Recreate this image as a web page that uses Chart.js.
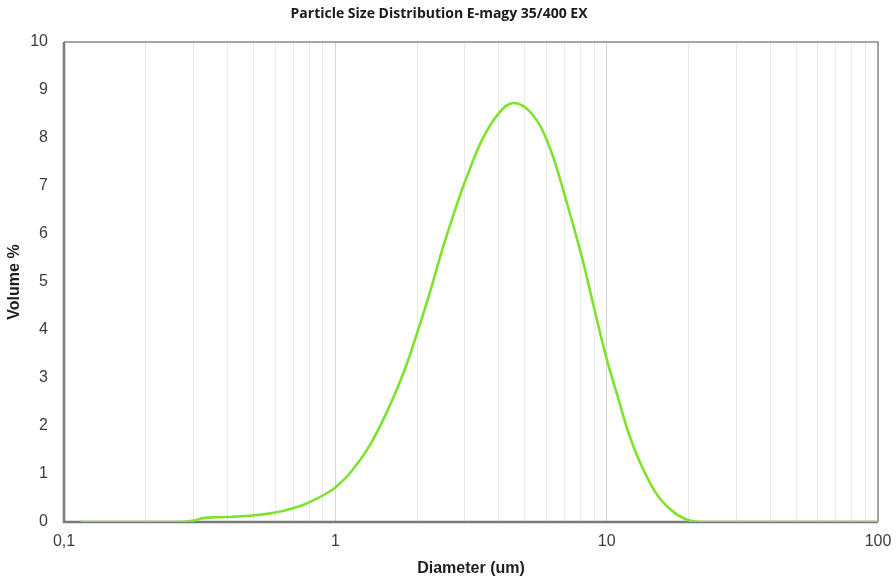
<!DOCTYPE html>
<html>
<head>
<meta charset="utf-8">
<script src="https://cdn.jsdelivr.net/npm/chart.js@4.4.1/dist/chart.umd.min.js"></script>
<style>
  html, body { margin: 0; padding: 0; background: #fff; }
  #wrap { width: 896px; height: 580px; position: relative; }
</style>
</head>
<body>
<div id="wrap"><canvas id="c"></canvas></div>
<script>
const chartTitle = 'Particle Size Distribution E-magy 35/400 EX';
const xAxisTitle = 'Diameter (um)';
const yAxisTitle = 'Volume %';

// Diameter (um) and volume %
const diameters = [0.115, 0.2, 0.27, 0.3, 0.325, 0.364, 0.42, 0.483, 0.56, 0.64, 0.72, 0.78, 0.85, 0.95, 1.0, 1.125, 1.334, 1.58, 1.82, 2.0, 2.22, 2.48, 2.78, 3.02, 3.48, 4.01, 4.55, 5.31, 6.12, 7.05, 8.12, 8.95, 10.0, 11.07, 12.05, 13.5, 15.5, 17.9, 20.0, 21.8, 30, 50, 100];
const volumes   = [0, 0, 0, 0.03, 0.08, 0.10, 0.11, 0.13, 0.17, 0.23, 0.31, 0.38, 0.48, 0.63, 0.72, 1.00, 1.58, 2.40, 3.24, 3.93, 4.74, 5.68, 6.55, 7.12, 7.97, 8.52, 8.73, 8.50, 7.85, 6.75, 5.50, 4.50, 3.40, 2.55, 1.85, 1.15, 0.53, 0.18, 0.04, 0, 0, 0, 0];

const xMajorTicks = [0.1, 1, 10, 100];
const xTickLabels = ['0,1', '1', '10', '100'];
const yTicks = [0, 1, 2, 3, 4, 5, 6, 7, 8, 9, 10];

const points = diameters.map((d, i) => ({ x: d, y: volumes[i] }));

const framePlugin = {
  id: 'frame',
  beforeDatasetsDraw(chart) {
    const { ctx, chartArea: a } = chart;
    ctx.save();
    ctx.strokeStyle = '#8a8a8a';
    ctx.lineWidth = 1.5;
    ctx.beginPath();
    ctx.moveTo(a.left, a.top);
    ctx.lineTo(a.right, a.top);
    ctx.lineTo(a.right, a.bottom);
    ctx.stroke();
    ctx.strokeStyle = '#7a7a7a';
    ctx.lineWidth = 2.5;
    ctx.beginPath();
    ctx.moveTo(a.left, a.top);
    ctx.lineTo(a.left, a.bottom);
    ctx.lineTo(a.right, a.bottom);
    ctx.stroke();
    ctx.restore();
  }
};

new Chart(document.getElementById('c'), {
  type: 'scatter',
  data: {
    datasets: [{
      data: points,
      showLine: true,
      borderColor: '#7fe22c',
      borderWidth: 2.6,
      pointRadius: 0,
      tension: 0.4,
      fill: false
    }]
  },
  options: {
    responsive: true,
    maintainAspectRatio: false,
    animation: false,
    layout: { padding: { left: 0, right: 18, top: 0, bottom: 0 } },
    plugins: {
      legend: { display: false },
      tooltip: { enabled: false },
      title: {
        display: true,
        text: chartTitle,
        color: '#1a1a1a',
        font: { family: 'Open Sans', size: 14, weight: 'bold', lineHeight: 1.2 },
        padding: { top: 5.6, bottom: 19.6 }
      }
    },
    scales: {
      x: {
        type: 'logarithmic',
        min: 0.1,
        max: 100,
        afterBuildTicks(scale) {
          const t = [];
          for (let k = 0; k < xMajorTicks.length; k++) {
            const base = xMajorTicks[k];
            t.push({ value: base, major: true });
            if (k < xMajorTicks.length - 1) {
              for (let m = 2; m <= 9; m++) t.push({ value: +(base * m).toPrecision(6), major: false });
            }
          }
          scale.ticks = t;
        },
        afterFit(scale) {
          scale.height = 58;
          scale.paddingLeft = 0;
          scale.paddingRight = 0;
        },
        border: { display: false },
        grid: {
          drawTicks: false,
          lineWidth: 1,
          color: (c) => (c.tick && c.tick.major) ? '#d4d4d4' : '#e8e8e8'
        },
        ticks: {
          autoSkip: false,
          maxRotation: 0,
          padding: 10,
          color: '#3c3c3c',
          font: { family: 'Liberation Sans', size: 16 },
          callback(value) {
            const i = xMajorTicks.findIndex(v => Math.abs(v - value) < 1e-9);
            return i >= 0 ? xTickLabels[i] : '';
          }
        },
        title: {
          display: true,
          text: xAxisTitle,
          color: '#1e1e1e',
          font: { family: 'Liberation Sans', size: 16, weight: 'bold', lineHeight: 1.2 },
          padding: { top: 0, bottom: 2 }
        }
      },
      y: {
        min: 0,
        max: 10,
        afterBuildTicks(scale) {
          scale.ticks = yTicks.map(v => ({ value: v }));
        },
        afterFit(scale) {
          scale.width = 64;
          scale.paddingTop = 0;
          scale.paddingBottom = 0;
        },
        border: { display: false },
        grid: { display: false, drawTicks: false },
        ticks: {
          padding: 16,
          color: '#3c3c3c',
          font: { family: 'Liberation Sans', size: 16 }
        },
        title: {
          display: true,
          text: yAxisTitle,
          color: '#1e1e1e',
          font: { family: 'Liberation Sans', size: 16, weight: 'bold', lineHeight: 1.2 },
          padding: { top: 5, bottom: 0 }
        }
      }
    }
  },
  plugins: [framePlugin]
});
</script>
</body>
</html>
